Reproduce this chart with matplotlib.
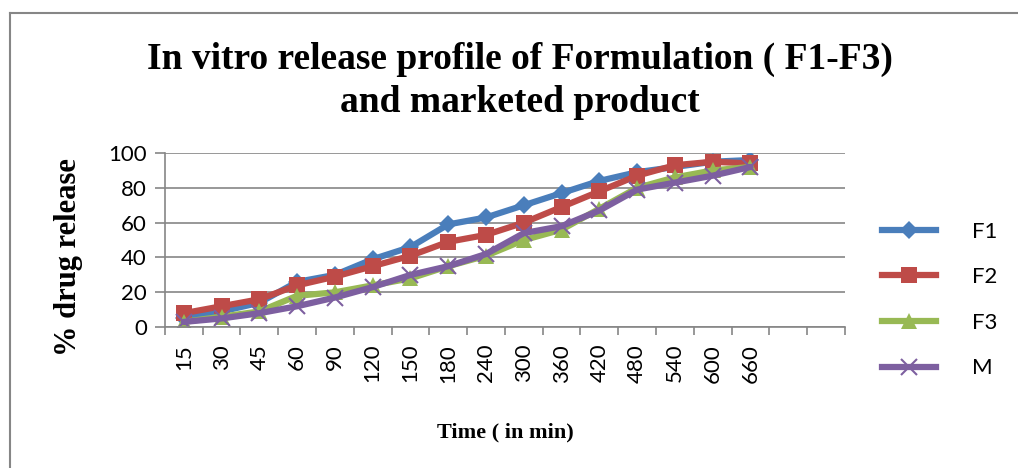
import matplotlib.pyplot as plt
import numpy as np
from matplotlib.lines import Line2D

time_labels = ["15", "30", "45", "60", "90", "120", "150", "180", "240",
               "300", "360", "420", "480", "540", "600", "660"]
n_cats = 18  # two empty categories at the end, as in the source chart

f1 = [5, 9, 14, 26, 30, 39, 46, 59, 63, 70, 77, 84, 89, 92, 95, 96]
f2 = [8, 12, 16, 24, 29, 35, 41, 49, 53, 60, 69, 78, 87, 93, 95, 94]
f3 = [3, 6, 9, 18, 20, 24, 28, 35, 41, 50, 56, 68, 80, 86, 90, 92]
m = [3, 5, 8, 12, 17, 23, 30, 35, 42, 54, 58, 67, 79, 83, 87, 92]

series = [
    ("F1", f1, "#4a7ebb", "D", 9),
    ("F2", f2, "#be4b48", "s", 11),
    ("F3", f3, "#98b954", "^", 11),
    ("M", m, "#7d5fa0", "x", 11),
]

fig = plt.figure(figsize=(10.18, 4.68), dpi=100)
ax = fig.add_axes([0.162, 0.301, 0.668, 0.372])

x = np.arange(len(time_labels))
for name, vals, col, mk, ms in series:
    ax.plot(x, vals, color=col, lw=4.5, marker=mk, ms=ms, mew=1.5 if mk == "x" else 0,
            mec=col, mfc=col, label=name, solid_capstyle="round")

ax.set_ylim(0, 100)
ax.set_xlim(-0.5, n_cats - 0.5)
ax.set_yticks(range(0, 101, 20))
ax.set_xticks(x)
ax.set_xticklabels(time_labels, rotation=90)
ax.set_xticks(np.arange(n_cats + 1) - 0.5, minor=True)
ax.tick_params(axis="x", which="major", length=0, pad=12, labelsize=16)
ax.tick_params(axis="x", which="minor", length=6, color="#868686", width=1.2)
ax.tick_params(axis="y", length=7, color="#868686", width=1.2, labelsize=16, pad=6)
for lab in ax.get_xticklabels() + ax.get_yticklabels():
    lab.set_fontfamily("Lato")

ax.grid(axis="y", color="#868686", lw=1.2)
ax.set_axisbelow(True)
for s in ["top", "right"]:
    ax.spines[s].set_visible(False)
for s in ["left", "bottom"]:
    ax.spines[s].set_color("#868686")
    ax.spines[s].set_linewidth(1.2)

ax.set_ylabel("% drug release", fontfamily="Liberation Serif", fontweight="bold",
              fontsize=22)
ax.yaxis.set_label_coords(-0.121, 0.40)
ax.set_xlabel("Time ( in min)", fontfamily="Liberation Serif", fontweight="bold",
              fontsize=16, labelpad=29)

title_font = dict(ha="center", va="center", fontfamily="Liberation Serif",
                  fontweight="bold", fontsize=27)
fig.text(0.511, 0.874, "In vitro release profile of Formulation ( F1-F3)", **title_font)
fig.text(0.511, 0.782, "and marketed product", **title_font)

handles = [Line2D([], [], color=c, lw=4.5, marker=mk, ms=ms, mew=1.5 if mk == "x" else 0,
                  mec=c, mfc=c) for _, _, c, mk, ms in series]
leg = fig.legend(handles, [s[0] for s in series], loc="center left",
                 bbox_to_anchor=(0.866, 0.359), frameon=False, borderpad=0,
                 borderaxespad=0, handlelength=2.45, labelspacing=1.15,
                 handletextpad=1.6, prop={"family": "Lato", "size": 16})

# chart area border (left and top edges visible in the source)
fig.add_artist(Line2D([0.01, 0.01], [0.0, 0.972], color="#868686", lw=1.5))
fig.add_artist(Line2D([0.01, 1.0], [0.972, 0.972], color="#868686", lw=1.5))

fig.savefig("out.png", dpi=100)
